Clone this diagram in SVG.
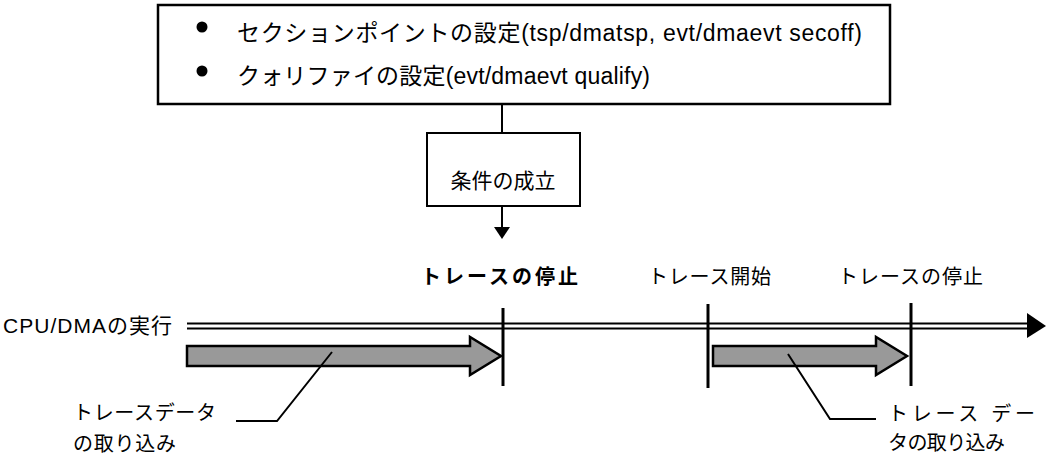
<svg xmlns="http://www.w3.org/2000/svg" width="1046" height="454" viewBox="0 0 1046 454">
<defs>
<style>
.t{font-family:"Liberation Sans","Noto Sans CJK JP",sans-serif;fill:#000}
.box{fill:#fff;stroke:#000}
.ln{fill:none;stroke:#000;stroke-width:2}
.mk{stroke:#000;stroke-width:3}
.ga{fill:#999;stroke:#000;stroke-width:2.5;stroke-linejoin:miter}
</style>
</defs>
<rect width="1046" height="454" fill="#fff"/>
<g id="settings">
<rect class="box" x="158" y="5" width="732" height="99" stroke-width="2.5"/>
<circle cx="202" cy="27" r="5.5"/>
<circle cx="202" cy="71" r="5.5"/>
<text class="t" x="237" y="41" font-size="23" textLength="625" lengthAdjust="spacing">セクションポイントの設定(tsp/dmatsp, evt/dmaevt secoff)</text>
<text class="t" x="237" y="84" font-size="23" textLength="413" lengthAdjust="spacing">クォリファイの設定(evt/dmaevt qualify)</text>
</g>
<g id="condition">
<rect class="box" x="427" y="133" width="153" height="73" stroke-width="2"/>
<text class="t" x="503" y="188" font-size="21" text-anchor="middle">条件の成立</text>
</g>
<g id="timeline">
<text class="t" x="3" y="333" font-size="21" textLength="169" lengthAdjust="spacing">CPU/DMAの実行</text>
<line class="ln" x1="187" y1="323.5" x2="1030" y2="323.5"/>
<line class="ln" x1="187" y1="328.5" x2="1030" y2="328.5"/>
<polygon points="1027,313 1046,326 1027,338"/>
</g>
<g id="stop1">
<text class="t" x="421" y="284" font-size="20" font-weight="bold" textLength="157" lengthAdjust="spacing">トレースの停止</text>
<line class="mk" x1="503" y1="308" x2="503" y2="386"/>
</g>
<g id="start">
<text class="t" x="648" y="284" font-size="20" textLength="123" lengthAdjust="spacing">トレース開始</text>
<line class="mk" x1="708" y1="304" x2="708" y2="388"/>
</g>
<g id="stop2">
<text class="t" x="838" y="284" font-size="20" textLength="145" lengthAdjust="spacing">トレースの停止</text>
<line class="mk" x1="911" y1="303" x2="911" y2="386"/>
</g>
<g id="capture1">
<polygon class="ga" points="187,346 470,346 470,337 501,356 470,375 470,366 187,366"/>
</g>
<g id="capture2">
<polygon class="ga" points="713,346 876,346 876,337 907,356 876,375 876,366 713,366"/>
</g>
<g id="label1">
<text class="t" x="73" y="420" font-size="20" textLength="143" lengthAdjust="spacing">トレースデータ</text>
<text class="t" x="73" y="451" font-size="20" textLength="103" lengthAdjust="spacing">の取り込み</text>
</g>
<g id="label2">
<text class="t" x="888" y="421" font-size="20" textLength="147" lengthAdjust="spacing">トレース デー</text>
<text class="t" x="888" y="450" font-size="20" textLength="117" lengthAdjust="spacing">タの取り込み</text>
</g>
<g id="connectors">
<line class="ln" x1="502" y1="104" x2="502" y2="133"/>
<line class="ln" x1="502" y1="206" x2="502" y2="230"/>
<polygon points="494,227 510,227 502,239"/>
<polyline class="ln" points="332,352 277,421 236,421"/>
<polyline class="ln" points="788,354 830,419 876,419"/>
</g>
</svg>
